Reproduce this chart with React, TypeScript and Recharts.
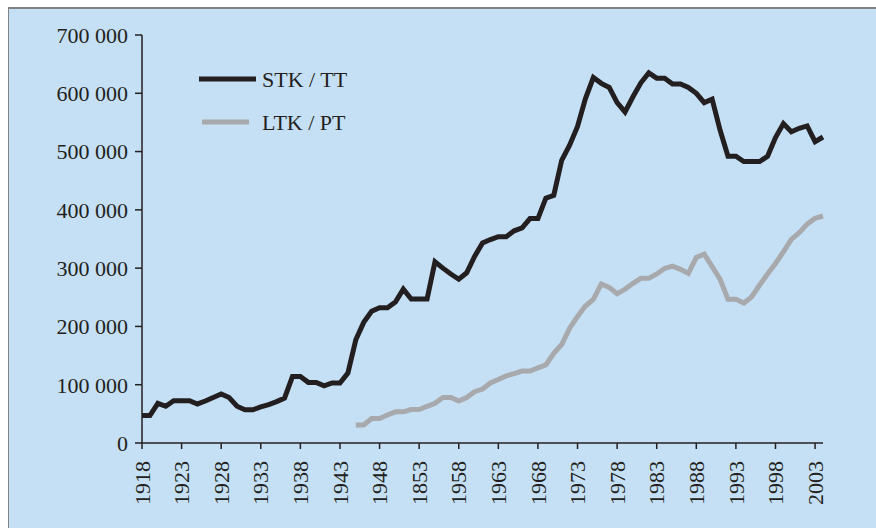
import React from "react";
import { LineChart, Line, XAxis, YAxis, Legend } from "recharts";

const years = [
  1918, 1919, 1920, 1921, 1922, 1923, 1924, 1925, 1926, 1927,
  1928, 1929, 1930, 1931, 1932, 1933, 1934, 1935, 1936, 1937,
  1938, 1939, 1940, 1941, 1942, 1943, 1944, 1945, 1946, 1947,
  1948, 1949, 1950, 1951, 1952, 1953, 1954, 1955, 1956, 1957,
  1958, 1959, 1960, 1961, 1962, 1963, 1964, 1965, 1966, 1967,
  1968, 1969, 1970, 1971, 1972, 1973, 1974, 1975, 1976, 1977,
  1978, 1979, 1980, 1981, 1982, 1983, 1984, 1985, 1986, 1987,
  1988, 1989, 1990, 1991, 1992, 1993, 1994, 1995, 1996, 1997,
  1998, 1999, 2000, 2001, 2002, 2003, 2004,
];

// STK / TT, 1918-2004
const stkTT = [
  47000, 47000, 68000, 63000, 72500, 72500, 72500, 67000, 72000, 78000,
  84000, 78000, 63000, 57000, 57000, 62000, 66000, 71000, 77000, 114000,
  114000, 104000, 104000, 98000, 103000, 103000, 120000, 177000, 207000, 226000,
  232000, 232000, 242000, 264000, 247000, 247000, 247000, 311000, 300000, 290000,
  281000, 292000, 320000, 343000, 349000, 354000, 354000, 364000, 369000, 385000,
  385000, 420000, 425000, 485000, 511000, 543000, 591000, 627000, 617000, 610000,
  584000, 568000, 594000, 618000, 635000, 626000, 626000, 616000, 616000, 610000,
  600000, 584000, 590000, 537000, 492000, 492000, 483000, 483000, 483000, 492000,
  524000, 548000, 534000, 540000, 544000, 517000, 525000,
];

// LTK / PT, starts 1945
const ltkStartYear = 1945;
const ltkPT = [
  31000, 31000, 42000, 42000, 48000, 53500, 53500, 57500, 57500, 63000,
  68000, 78000, 78000, 72000, 78000, 88000, 92500, 103000, 109000, 115000,
  119000, 123500, 123500, 129000, 134000, 154000, 169000, 197000, 217000, 235000,
  246500, 273000, 267000, 256000, 264000, 274000, 282500, 282500, 290000, 299500,
  303500, 298000, 291000, 318500, 324000, 302500, 281000, 246500, 246500, 240000,
  251000, 271000, 290000, 308000, 328000, 349500, 361000, 375500, 385500, 389500,
];

const xTicks = [1918, 1923, 1928, 1933, 1938, 1943, 1948, 1953, 1958, 1963, 1968, 1973, 1978, 1983, 1988, 1993, 1998, 2003];
const xTickLabels = ["1918", "1923", "1928", "1933", "1938", "1943", "1948", "1853", "1958", "1963", "1968", "1973", "1978", "1983", "1988", "1993", "1998", "2003"];
const yTicks = [0, 100000, 200000, 300000, 400000, 500000, 600000, 700000];

const seriesNames = ["STK / TT", "LTK / PT"];

const data = years.map((year, i) => {
  const li = year - ltkStartYear;
  return {
    year,
    stk: stkTT[i],
    ltk: li >= 0 && li < ltkPT.length ? ltkPT[li] : null,
  };
});

const FONT = "'Liberation Serif', 'Times New Roman', serif";
const TEXT = "#231f20";
const BLACK = "#231f20";
const GRAY = "#a7a9ac";

const fmtY = (v: number) => {
  if (v === 0) return "0";
  const s = String(v);
  return s.slice(0, s.length - 3) + "\u00a0" + s.slice(s.length - 3);
};

const XTick = (props: any) => {
  const { x, y, payload } = props;
  const idx = xTicks.indexOf(payload.value);
  const label = idx >= 0 ? xTickLabels[idx] : String(payload.value);
  return (
    <text
      x={x}
      y={y}
      transform={`rotate(-90 ${x} ${y})`}
      textAnchor="end"
      dy="0.35em"
      fill={TEXT}
      fontSize={22}
      fontFamily={FONT}
    >
      {label}
    </text>
  );
};

const LegendContent = () => (
  <svg width={220} height={90} style={{ display: "block", overflow: "visible" }}>
    <line x1={9} y1={19} x2={66} y2={19} stroke={BLACK} strokeWidth={5} />
    <text x={72} y={19} dy="0.35em" fill={TEXT} fontSize={22} fontFamily={FONT}>
      {seriesNames[0]}
    </text>
    <line x1={12} y1={62} x2={59} y2={62} stroke={GRAY} strokeWidth={5} />
    <text x={72} y={62} dy="0.35em" fill={TEXT} fontSize={22} fontFamily={FONT}>
      {seriesNames[1]}
    </text>
  </svg>
);

export default function App() {
  return (
    <div style={{ position: "absolute", left: 0, top: 0, width: 876, height: 528, overflow: "hidden" }}>
      <div
        style={{
          position: "absolute",
          left: 8,
          top: 7,
          width: 868,
          height: 521,
          background: "#c5e0f4",
          borderTop: "2px solid #808285",
          borderLeft: "1px solid #808285",
          boxSizing: "border-box",
        }}
      />
      <div style={{ position: "absolute", left: 0, top: 0 }}>
        <LineChart width={876} height={528} data={data} margin={{ top: 35, right: 53, bottom: 0, left: 0 }}>
          <XAxis
            dataKey="year"
            type="number"
            domain={[1918, 2004]}
            ticks={xTicks}
            interval={0}
            tick={<XTick />}
            tickSize={6}
            tickMargin={12}
            height={85}
            axisLine={{ stroke: TEXT, strokeWidth: 1.5 }}
            tickLine={{ stroke: TEXT, strokeWidth: 1.5 }}
          />
          <YAxis
            domain={[0, 700000]}
            ticks={yTicks}
            interval={0}
            width={142}
            tickFormatter={fmtY}
            tickSize={7}
            tickMargin={7}
            tick={{ fill: TEXT, fontSize: 22, fontFamily: FONT }}
            axisLine={{ stroke: TEXT, strokeWidth: 1.5 }}
            tickLine={{ stroke: TEXT, strokeWidth: 1.5 }}
          />
          <Legend
            layout="vertical"
            align="center"
            verticalAlign="middle"
            content={<LegendContent />}
            wrapperStyle={{ left: 190, top: 60, width: 220, height: 90 }}
          />
          <Line
            dataKey="stk"
            name={seriesNames[0]}
            stroke={BLACK}
            strokeWidth={5}
            dot={false}
            activeDot={false}
            isAnimationActive={false}
            type="linear"
          />
          <Line
            dataKey="ltk"
            name={seriesNames[1]}
            stroke={GRAY}
            strokeWidth={5}
            dot={false}
            activeDot={false}
            isAnimationActive={false}
            type="linear"
          />
        </LineChart>
      </div>
    </div>
  );
}
